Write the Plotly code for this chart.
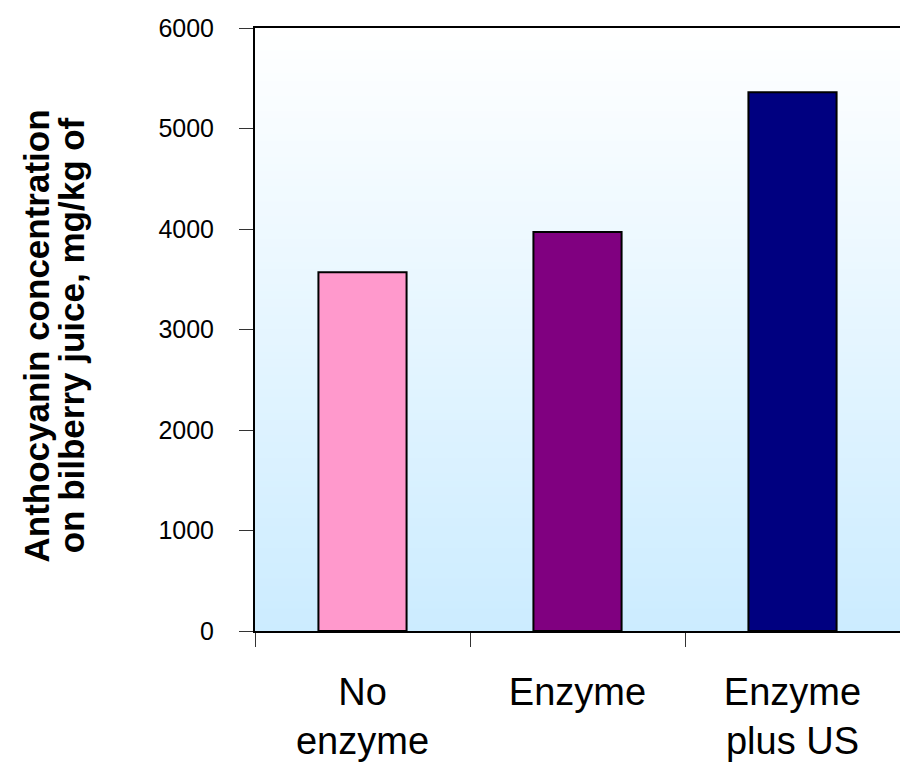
import plotly.graph_objects as go

# Anthocyanin content of bilberry juice by treatment
categories = ["No<br>enzyme", "Enzyme", "Enzyme<br>plus US"]
concentration = [3570, 3970, 5360]
bar_colors = ["#FF99CC", "#800080", "#000080"]
y_ticks = [0, 1000, 2000, 3000, 4000, 5000, 6000]

FONT = "Liberation Sans, Arial, sans-serif"

fig = go.Figure()
fig.add_trace(go.Bar(
    x=categories,
    y=concentration,
    width=0.41,
    marker=dict(color=bar_colors, line=dict(color="black", width=2)),
    showlegend=False,
    hoverinfo="x+y",
))

# Vertical gradient background: pale blue at the bottom fading to white at the top
top_rgb = (255, 255, 255)
bottom_rgb = (204, 236, 255)
n_bands = 80
shapes = []
for i in range(n_bands):
    t = i / (n_bands - 1)
    r = round(bottom_rgb[0] + (top_rgb[0] - bottom_rgb[0]) * t)
    g = round(bottom_rgb[1] + (top_rgb[1] - bottom_rgb[1]) * t)
    b = round(bottom_rgb[2] + (top_rgb[2] - bottom_rgb[2]) * t)
    shapes.append(dict(
        type="rect", xref="x domain", yref="y domain",
        x0=0, x1=1, y0=i / n_bands, y1=(i + 1) / n_bands + 0.002,
        fillcolor=f"rgb({r},{g},{b})", line=dict(width=0), layer="below",
    ))

fig.update_layout(
    width=900, height=773,
    margin=dict(l=255, r=0, t=28, b=142),
    paper_bgcolor="white",
    plot_bgcolor="white",
    shapes=shapes,
    bargap=0.59,
    font=dict(family=FONT, color="black"),
    xaxis=dict(
        type="category",
        tickson="boundaries",
        ticks="outside", ticklen=14, tickwidth=1, tickcolor="#333",
        showline=True, linecolor="black", linewidth=2, mirror=True,
        showgrid=False,
        tickfont=dict(size=38, family=FONT, color="black"),
        ticklabelstandoff=26,
    ),
    yaxis=dict(
        range=[0, 6000],
        tickvals=y_ticks,
        ticks="outside", ticklen=14, tickwidth=1, tickcolor="#333",
        showline=True, linecolor="black", linewidth=2,
        showgrid=False, zeroline=False,
        tickfont=dict(size=25, family=FONT, color="black"),
        ticklabelstandoff=20,
    ),
    annotations=[
        dict(text="<b>Anthocyanin concentration</b>", textangle=-90,
             xref="paper", yref="paper", x=-0.338, y=0.49,
             xanchor="center", yanchor="middle", showarrow=False,
             font=dict(size=35, family=FONT, color="black")),
        dict(text="<b>on bilberry juice, mg/kg of</b>", textangle=-90,
             xref="paper", yref="paper", x=-0.284, y=0.49,
             xanchor="center", yanchor="middle", showarrow=False,
             font=dict(size=35, family=FONT, color="black")),
    ],
)

fig.write_html("out.html")
